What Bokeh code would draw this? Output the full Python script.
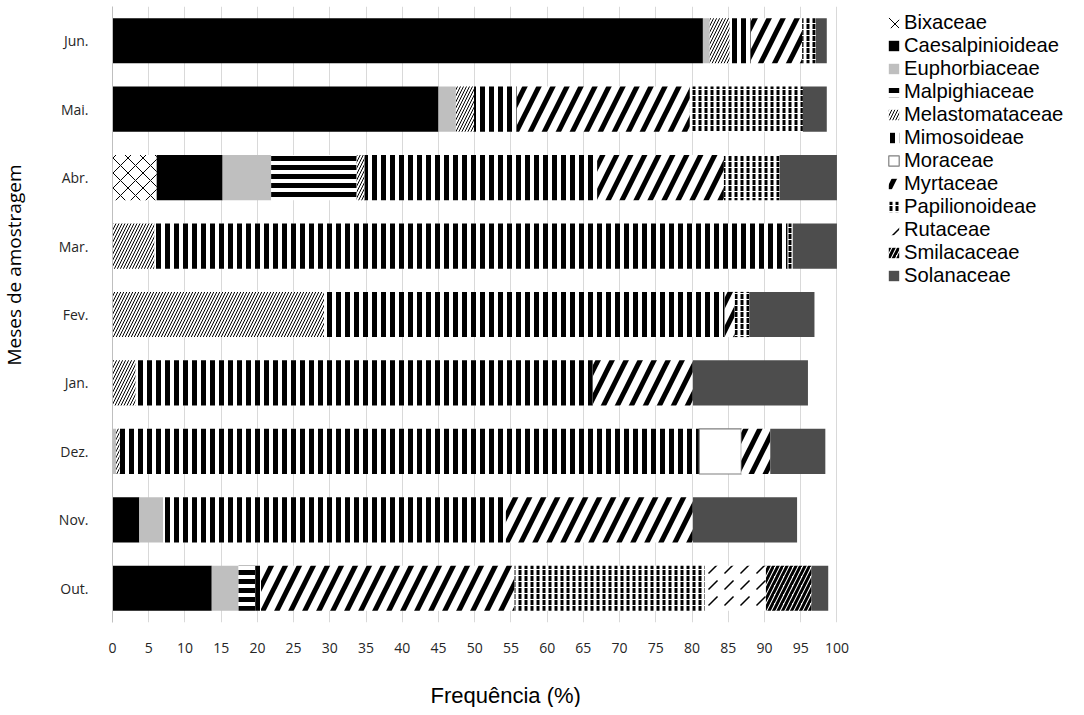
from bokeh.plotting import figure
from bokeh.models import (ColumnDataSource, FactorRange, Range1d, Legend, LegendItem,
                          Title, FixedTicker)
from bokeh.transform import stack
from bokeh.embed import file_html
from bokeh.resources import INLINE

# ---------------- data ----------------
months = ["Out.", "Nov.", "Dez.", "Jan.", "Fev.", "Mar.", "Abr.", "Mai.", "Jun."]

families = ["Bixaceae", "Caesalpinioideae", "Euphorbiaceae", "Malpighiaceae",
            "Melastomataceae", "Mimosoideae", "Moraceae", "Myrtaceae",
            "Papilionoideae", "Rutaceae", "Smilacaceae", "Solanaceae"]

#                 Out.  Nov.  Dez.  Jan.  Fev.  Mar.  Abr.  Mai.  Jun.
bixaceae        = [0.0,  0.0,  0.0,  0.0,  0.0,  0.0,  6.1,  0.0,  0.0]
caesalpinioideae= [13.7, 3.7,  0.0,  0.0,  0.0,  0.0,  9.1, 45.0, 81.5]
euphorbiaceae   = [3.7,  3.3,  0.5,  0.0,  0.0,  0.0,  6.7,  2.4,  0.95]
malpighiaceae   = [2.3,  0.0,  0.0,  0.0,  0.0,  0.0, 11.8,  0.0,  0.0]
melastomataceae = [0.0,  0.0,  0.5,  3.2, 29.2,  5.8,  1.1,  2.5,  2.75]
mimosoideae     = [0.8, 47.3, 80.0, 63.1, 55.3, 87.4, 32.1,  5.9,  2.9]
moraceae        = [0.0,  0.0,  5.8,  0.0,  0.0,  0.0,  0.0,  0.0,  0.0]
myrtaceae       = [35.0, 25.8, 4.0, 13.8,  1.4,  0.0, 17.5, 23.9,  7.1]
papilionoideae  = [26.3, 0.0,  0.0,  0.0,  2.0,  0.7,  7.7, 15.6,  1.9]
rutaceae        = [8.4,  0.0,  0.0,  0.0,  0.0,  0.0,  0.0,  0.0,  0.0]
smilacaceae     = [6.3,  0.0,  0.0,  0.0,  0.0,  0.0,  0.0,  0.0,  0.0]
solanaceae      = [2.3, 14.4,  7.6, 15.9,  9.0,  6.1,  7.9,  3.3,  1.5]

x_ticks = list(range(0, 101, 5))

values = [bixaceae, caesalpinioideae, euphorbiaceae, malpighiaceae, melastomataceae,
          mimosoideae, moraceae, myrtaceae, papilionoideae, rutaceae, smilacaceae,
          solanaceae]

# ---------------- styles ----------------
styles = {
    "Bixaceae":         dict(fill_color="white", hatch_pattern="x", hatch_scale=15, hatch_weight=1),
    "Caesalpinioideae": dict(fill_color="black"),
    "Euphorbiaceae":    dict(fill_color="#bfbfbf"),
    "Malpighiaceae":    dict(fill_color="white", hatch_pattern="-", hatch_scale=9, hatch_weight=5),
    "Melastomataceae":  dict(fill_color="white", hatch_pattern="/", hatch_scale=6, hatch_weight=1),
    "Mimosoideae":      dict(fill_color="white", hatch_pattern="|", hatch_scale=9, hatch_weight=5),
    "Moraceae":         dict(fill_color="white"),
    "Myrtaceae":        dict(fill_color="white", hatch_pattern="/", hatch_scale=28, hatch_weight=5),
    "Papilionoideae":   dict(fill_color="white", hatch_pattern=":", hatch_scale=6, hatch_weight=3),
    "Rutaceae":         dict(fill_color="white", hatch_pattern=",", hatch_scale=16, hatch_weight=1.5),
    "Smilacaceae":      dict(fill_color="white", hatch_pattern="/", hatch_scale=9, hatch_weight=3),
    "Solanaceae":       dict(fill_color="#4d4d4d"),
}

data = {"month": months}
for fam, vals in zip(families, values):
    data[fam] = vals
data["mor_line"] = [1.0 if v > 0 else 0.0 for v in moraceae]
source = ColumnDataSource(data)

PX_PER_UNIT = 7.32          # 0..100 spans 732 px
FRAME_W = 1068 - 102        # frame extends under the legend area
p = figure(width=1068, height=707,
           y_range=FactorRange(factors=months, range_padding=0),
           x_range=Range1d(0, FRAME_W / PX_PER_UNIT),
           output_backend="svg", toolbar_location=None,
           min_border_left=0, min_border_right=0, min_border_top=6, min_border_bottom=0)

renderers = []
for i, fam in enumerate(families):
    kw = dict(hatch_color="black", hatch_alpha=1.0)
    kw.update(styles[fam])
    if fam == "Moraceae":
        kw.update(line_color="#7f7f7f", line_width=1.2, line_alpha="mor_line")
    else:
        kw.update(line_color=None)
    r = p.hbar(y="month", left=stack(*families[:i]) if i > 0 else 0,
               right=stack(*families[:i + 1]), height=0.66, source=source, **kw)
    renderers.append(r)

# axes
p.xaxis.ticker = FixedTicker(ticks=x_ticks)
p.xaxis.axis_line_color = None
p.xaxis.major_tick_line_color = None
p.xaxis.minor_tick_line_color = None
p.xaxis.major_label_standoff = 14
p.xaxis.major_label_text_font = "Open Sans"
p.xaxis.major_label_text_font_size = "14px"
p.xaxis.major_label_text_color = "#262626"
p.xaxis.axis_label = " "
p.xaxis.axis_label_text_font_size = "10px"
p.xaxis.axis_label_standoff = 11

p.yaxis.axis_line_color = "#bfbfbf"
p.yaxis.major_tick_line_color = None
p.yaxis.minor_tick_line_color = None
p.yaxis.major_label_standoff = 18
p.yaxis.major_label_text_font = "Open Sans"
p.yaxis.major_label_text_font_size = "14px"
p.yaxis.major_label_text_color = "#262626"
p.yaxis.axis_label = " "
p.yaxis.axis_label_text_font_size = "10px"
p.yaxis.axis_label_standoff = 13

p.xgrid.ticker = FixedTicker(ticks=x_ticks)
p.xgrid.grid_line_color = "#d9d9d9"
p.ygrid.grid_line_color = None
p.outline_line_color = None

# axis titles
xt = Title(text="Frequência (%)", align="left", offset=318, standoff=0,
           vertical_align="bottom",
           text_font="Liberation Sans", text_font_size="22px", text_font_style="normal",
           text_color="black")
p.add_layout(xt, "below")
yt = Title(text="Meses de amostragem", align="left", offset=257, standoff=0,
           vertical_align="top",
           text_font="Open Sans", text_font_size="19px", text_font_style="normal",
           text_color="black")
p.add_layout(yt, "left")

items = []
for fam, r in zip(families, renderers):
    idx = months.index("Dez.") if fam == "Moraceae" else None
    items.append(LegendItem(label=fam, renderers=[r], index=idx))

legend = Legend(items=items, location=(775, 335), orientation="vertical",
                glyph_width=13, glyph_height=13, label_standoff=4,
                label_height=20, spacing=0, padding=0, margin=0,
                border_line_color=None, background_fill_alpha=0,
                label_text_font="Liberation Sans", label_text_font_size="20.2px",
                label_text_color="black")
p.add_layout(legend)

open("out.html", "w").write(file_html(p, INLINE))
